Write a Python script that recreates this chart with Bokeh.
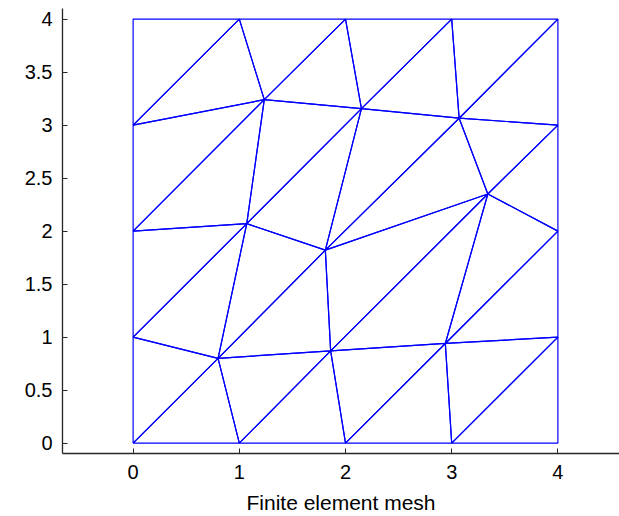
from bokeh.plotting import figure
from bokeh.models import Range1d, FixedTicker
from bokeh.embed import file_html
from bokeh.resources import INLINE

# Mesh nodes (x, y)
node_x = [0, 1, 2, 3, 4, 4, 4, 4, 4, 3, 2, 1, 0, 0, 0, 0,
          0.80, 1.86, 2.94, 1.07, 1.81, 3.34, 1.235, 2.15, 3.07]
node_y = [0, 0, 0, 0, 0, 1, 2, 3, 4, 4, 4, 4, 4, 3, 2, 1,
          0.80, 0.87, 0.94, 2.07, 1.82, 2.35, 3.24, 3.155, 3.065]

# Triangle connectivity (node indices)
triangles = [
    (13, 12, 11), (13, 11, 22), (11, 22, 10), (22, 10, 23),
    (23, 10, 9), (23, 9, 24), (24, 9, 8), (24, 8, 7),
    (14, 13, 22), (14, 22, 19), (19, 22, 23), (19, 23, 20),
    (23, 24, 20), (24, 21, 20), (24, 7, 21), (21, 7, 6),
    (15, 14, 19), (15, 19, 16), (16, 19, 20), (16, 20, 17),
    (17, 20, 21), (17, 21, 18), (18, 21, 6), (18, 6, 5),
    (0, 15, 16), (0, 16, 1), (1, 16, 17), (1, 17, 2),
    (2, 17, 18), (2, 18, 3), (3, 18, 5), (3, 5, 4),
]

x_ticks = [0, 1, 2, 3, 4]
y_ticks = [0, 0.5, 1, 1.5, 2, 2.5, 3, 3.5, 4]
y_tick_labels = {0: "0", 0.5: "0.5", 1: "1", 1.5: "1.5", 2: "2",
                 2.5: "2.5", 3: "3", 3.5: "3.5", 4: "4"}
x_label = "Finite element mesh"

xs = [[node_x[i] for i in t] for t in triangles]
ys = [[node_y[i] for i in t] for t in triangles]

p = figure(width=619, height=516, output_backend="svg", toolbar_location=None,
           x_range=Range1d(-0.665, 4.58), y_range=Range1d(-0.098, 4.1),
           min_border_left=62, min_border_right=0, min_border_top=8,
           min_border_bottom=63)
p.outline_line_color = None
p.grid.visible = False
p.background_fill_color = "white"
p.border_fill_color = "white"

p.patches(xs, ys, fill_color=None, line_color="#0000ff", line_width=1.2)

for ax in (p.xaxis[0], p.yaxis[0]):
    ax.axis_line_color = "#262626"
    ax.axis_line_width = 1.3
    ax.major_tick_line_color = "#262626"
    ax.major_tick_in = 5
    ax.major_tick_out = 0
    ax.minor_tick_line_color = None
    ax.major_label_text_font = "Liberation Sans"
    ax.major_label_text_font_size = "20px"
    ax.major_label_text_color = "#000000"

p.xaxis.ticker = FixedTicker(ticks=x_ticks)
p.yaxis.ticker = FixedTicker(ticks=y_ticks)
p.yaxis.major_label_overrides = y_tick_labels
p.xaxis.major_label_standoff = 11
p.yaxis.major_label_standoff = 10
p.xaxis.axis_label = x_label
p.xaxis.axis_label_text_font = "Liberation Sans"
p.xaxis.axis_label_text_font_style = "normal"
p.xaxis.axis_label_text_font_size = "21px"
p.xaxis.axis_label_text_color = "#000000"
p.xaxis.axis_label_standoff = 9

open("out.html", "w").write(file_html(p, INLINE))
